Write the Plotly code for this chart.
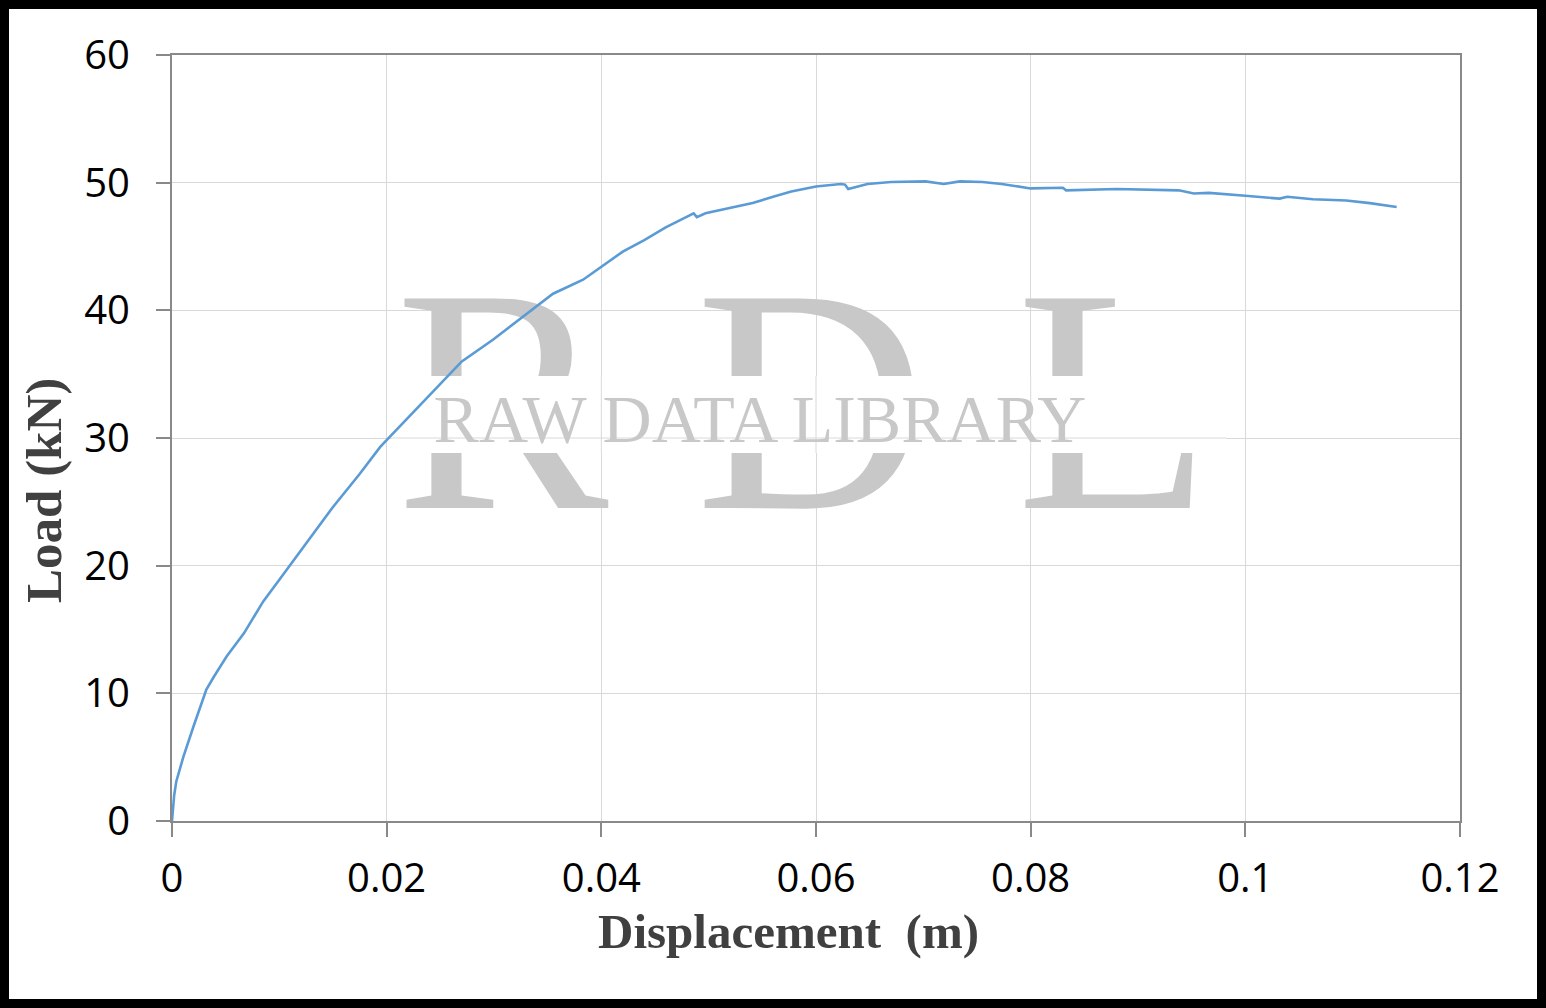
import plotly.graph_objects as go

# Displacement (m) and load (kN)
displacement = [0, 0.0002, 0.0004, 0.00075, 0.00105, 0.002, 0.0032, 0.0039, 0.0051, 0.0067,
                0.0085, 0.010, 0.012, 0.015, 0.0175, 0.0194, 0.022, 0.0245, 0.027, 0.0299,
                0.0327, 0.0355, 0.0383, 0.040, 0.042, 0.044, 0.046, 0.0486, 0.0489, 0.0497,
                0.052, 0.0541, 0.056, 0.0577, 0.060, 0.0623, 0.0627, 0.063, 0.0648, 0.067,
                0.0702, 0.0719, 0.0734, 0.0755, 0.0773, 0.080, 0.083, 0.0833, 0.088, 0.0916,
                0.0938, 0.0952, 0.0966, 0.100, 0.1032, 0.1039, 0.1063, 0.1094, 0.1116, 0.1141]
load = [0, 2.0, 3.1, 4.2, 5.0, 7.4, 10.3, 11.3, 12.9, 14.7,
        17.2, 18.9, 21.2, 24.6, 27.2, 29.3, 31.6, 33.8, 36.0, 37.7,
        39.5, 41.3, 42.4, 43.4, 44.6, 45.5, 46.5, 47.6, 47.3, 47.6,
        48.0, 48.4, 48.9, 49.3, 49.7, 49.9, 49.85, 49.5, 49.9, 50.05,
        50.1, 49.9, 50.1, 50.05, 49.9, 49.55, 49.6, 49.4, 49.5, 49.45,
        49.4, 49.15, 49.2, 48.97, 48.75, 48.9, 48.7, 48.6, 48.4, 48.1]

x_ticks = [0, 0.02, 0.04, 0.06, 0.08, 0.1, 0.12]
x_tick_labels = ["0", "0.02", "0.04", "0.06", "0.08", "0.1", "0.12"]
y_ticks = [0, 10, 20, 30, 40, 50, 60]
y_tick_labels = ["0", "10", "20", "30", "40", "50", "60"]

X_RANGE = [0, 0.12]
Y_RANGE = [0, 60]
W, H = 1546, 1008
L_M, R_M, T_M, B_M = 172, 86, 55, 187
PW, PH = W - L_M - R_M, H - T_M - B_M

GRID = "#D9D9D9"
AXIS = "#898989"
WM = "#C8C8C8"


def px_to_data(px, py):
    fx = (px - L_M) / PW
    fy = (H - B_M - py) / PH
    return X_RANGE[0] + fx * (X_RANGE[1] - X_RANGE[0]), Y_RANGE[0] + fy * (Y_RANGE[1] - Y_RANGE[0])


def px_to_paper(px, py):
    return (px - L_M) / PW, (H - B_M - py) / PH


fig = go.Figure()

# ---- Watermark: big "R D L" letters ----
for letter, cx in [("R", 502), ("D", 811), ("L", 1114)]:
    x, y = px_to_data(cx, 428)
    fig.add_trace(go.Scatter(x=[x], y=[y], mode="text", text=[letter],
                             textposition="middle center", hoverinfo="skip", showlegend=False,
                             textfont=dict(family="Liberation Serif", size=320, color=WM),
                             cliponaxis=False))

# white band cutting the big letters behind the small text
bx0, by0 = px_to_data(392, 453)
bx1, by1 = px_to_data(1226, 376)
fig.add_trace(go.Scatter(x=[bx0, bx1, bx1, bx0, bx0], y=[by0, by0, by1, by1, by0],
                         mode="lines", fill="toself", fillcolor="#FFFFFF",
                         line=dict(width=0, color="#FFFFFF"), hoverinfo="skip", showlegend=False))
# gridlines that remain visible through the band
for yt in y_ticks:
    if by0 < yt < by1:
        fig.add_trace(go.Scatter(x=[bx0, bx1], y=[yt, yt], mode="lines",
                                 line=dict(color=GRID, width=1), hoverinfo="skip", showlegend=False))
for xt in x_ticks:
    if bx0 < xt < bx1:
        fig.add_trace(go.Scatter(x=[xt, xt], y=[by0, by1], mode="lines",
                                 line=dict(color=GRID, width=1), hoverinfo="skip", showlegend=False))

x, y = px_to_data(760, 425)
fig.add_trace(go.Scatter(x=[x], y=[y], mode="text", text=["RAW DATA LIBRARY"],
                         textposition="middle center", hoverinfo="skip", showlegend=False,
                         textfont=dict(family="Liberation Serif", size=68, color=WM),
                         cliponaxis=False))

# ---- Data ----
fig.add_trace(go.Scatter(x=displacement, y=load, mode="lines",
                         line=dict(color="#5B9BD5", width=2.6), showlegend=False))

axis_common = dict(
    showgrid=True, gridcolor=GRID, gridwidth=1,
    showline=True, linecolor=AXIS, linewidth=2, mirror=True,
    ticks="outside", ticklen=14, tickwidth=2, tickcolor=AXIS,
    tickfont=dict(family="Open Sans", size=40, color="#000000"),
    zeroline=False,
)

fig.update_xaxes(range=X_RANGE, tickvals=x_ticks, ticktext=x_tick_labels,
                 ticklabelstandoff=7, **axis_common)
fig.update_yaxes(range=Y_RANGE, tickvals=y_ticks, ticktext=y_tick_labels,
                 ticklabelstandoff=18, **axis_common)

# Axis titles
tx, ty = px_to_paper(788, 931)
fig.add_annotation(text="<b>Displacement\u00a0\u00a0(m)</b>", xref="paper", yref="paper",
                   x=tx, y=ty, xanchor="center", yanchor="middle", showarrow=False,
                   borderpad=0,
                   font=dict(family="Liberation Serif", size=49, color="#404040"))
tx, ty = px_to_paper(44, 491)
fig.add_annotation(text="<b>Load (kN)</b>", xref="paper", yref="paper", textangle=-90,
                   x=tx, y=ty, xanchor="center", yanchor="middle", showarrow=False,
                   font=dict(family="Liberation Serif", size=51, color="#404040"))

# Outer black frame
x0, y0 = px_to_paper(4.5, 4.5)
x1, y1 = px_to_paper(W - 4.5, H - 4.5)
fig.add_shape(type="rect", xref="paper", yref="paper", x0=x0, x1=x1, y0=y1, y1=y0,
              line=dict(color="#000000", width=9), fillcolor="rgba(0,0,0,0)", layer="above")

fig.update_layout(
    width=W, height=H,
    margin=dict(l=L_M, r=R_M, t=T_M, b=B_M, autoexpand=False),
    paper_bgcolor="#FFFFFF", plot_bgcolor="#FFFFFF",
    font=dict(family="Liberation Serif"),
)

fig.write_html("out.html", config={"displayModeBar": False},
               post_script="document.body.style.margin='0';")
